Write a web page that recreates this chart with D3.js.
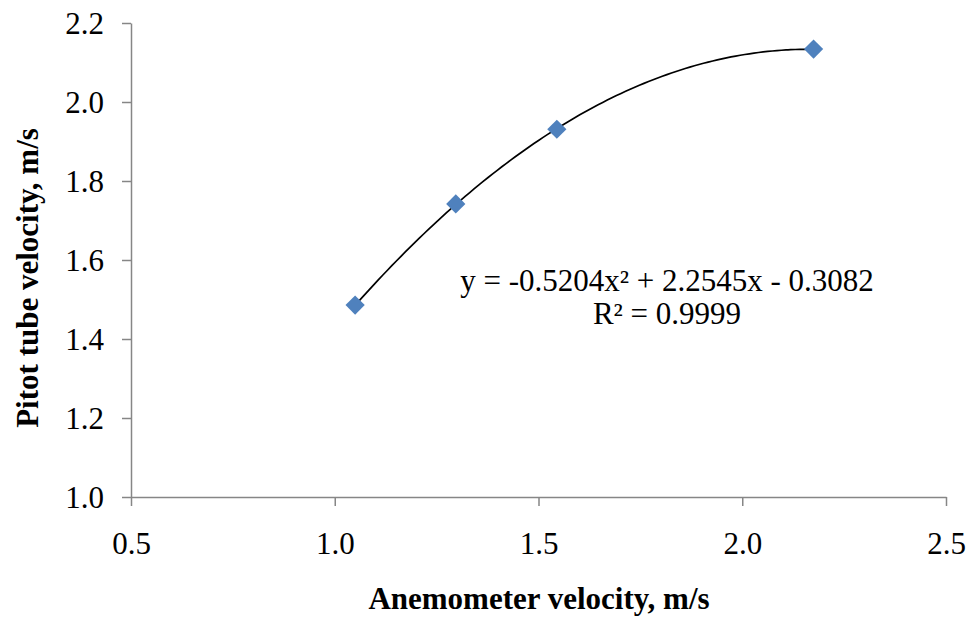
<!DOCTYPE html>
<html>
<head>
<meta charset="utf-8">
<script src="https://cdn.jsdelivr.net/npm/d3@7"></script>
</head>
<body style="margin:0;background:#fff">
<svg id="chart" width="969" height="617"></svg>
<script>
// data
let anemometer = [1.05, 1.297, 1.545, 2.175];
let pitot = [1.486, 1.742, 1.931, 2.134];
let xTicks = [0.5, 1.0, 1.5, 2.0, 2.5];
let yTicks = [1.0, 1.2, 1.4, 1.6, 1.8, 2.0, 2.2];
// trendline coefficients (a x^2 + b x + c) as printed on the chart
let trendCoef = [-0.5204, 2.2545, -0.3082];
let trendLabel = ["y = -0.5204x² + 2.2545x - 0.3082", "R² = 0.9999"];

let fontName = "Liberation Serif";
let fontSize = 31;
let svg = d3.select("#chart");
let axisColor = "#868686";

let x = d3.scaleLinear().domain([0.5, 2.5]).range([131, 946]);
let y = d3.scaleLinear().domain([1.0, 2.2]).range([497, 23]);

// axes
let xAxis = svg.append("g")
  .attr("transform", "translate(0," + y(1.0) + ")")
  .call(d3.axisBottom(x).tickValues(xTicks).tickSize(9).tickSizeOuter(0)
    .tickFormat(d3.format(".1f")));
let yAxis = svg.append("g")
  .attr("transform", "translate(" + x(0.5) + ",0)")
  .call(d3.axisLeft(y).tickValues(yTicks).tickSize(9).tickSizeOuter(0)
    .tickFormat(d3.format(".1f")));

[xAxis, yAxis].forEach((g) => {
  g.attr("font-family", fontName).attr("font-size", fontSize);
  g.select(".domain").attr("stroke", axisColor).attr("stroke-width", 1.5);
  g.selectAll(".tick line").attr("stroke", axisColor).attr("stroke-width", 1.5);
  g.selectAll(".tick text")
    .attr("font-family", fontName)
    .attr("font-size", fontSize)
    .attr("fill", "#000");
});
xAxis.selectAll(".tick text").attr("y", 57).attr("dy", 0);
yAxis.selectAll(".tick text").attr("x", -27).attr("dy", "0.34em");

// trendline
let curveX = d3.range(0, 101).map((i) => anemometer[0] + (anemometer[anemometer.length - 1] - anemometer[0]) * i / 100);
let trendLine = d3.line()
  .x((d) => x(d))
  .y((d) => y(trendCoef[0] * d * d + trendCoef[1] * d + trendCoef[2]))
  .curve(d3.curveBasis);
svg.append("path")
  .datum(curveX)
  .attr("d", trendLine)
  .attr("fill", "none")
  .attr("stroke", "#000")
  .attr("stroke-width", 1.7);

// markers
svg.selectAll(".pt")
  .data(anemometer)
  .enter()
  .append("path")
  .attr("class", "pt")
  .attr("d", d3.symbol().type(d3.symbolSquare).size(185))
  .attr("transform", (d, i) => "translate(" + x(d) + "," + y(pitot[i]) + ") rotate(45)")
  .attr("fill", "#4F81BD");

let addText = (tx, ty, str, bold, rot) => {
  return svg.append("text")
    .attr("transform", "translate(" + tx + "," + ty + ")" + (rot ? " rotate(-90)" : ""))
    .attr("text-anchor", "middle")
    .attr("font-family", fontName)
    .attr("font-size", fontSize)
    .attr("font-weight", bold ? "bold" : "normal")
    .attr("fill", "#000")
    .text(str);
};

// equation
addText(667, 291, trendLabel[0], false, false);
addText(667, 324, trendLabel[1], false, false);

// axis titles
addText(539, 609, "Anemometer velocity, m/s", true, false);
addText(38, 278, "Pitot tube velocity, m/s", true, true);
</script>
</body>
</html>
